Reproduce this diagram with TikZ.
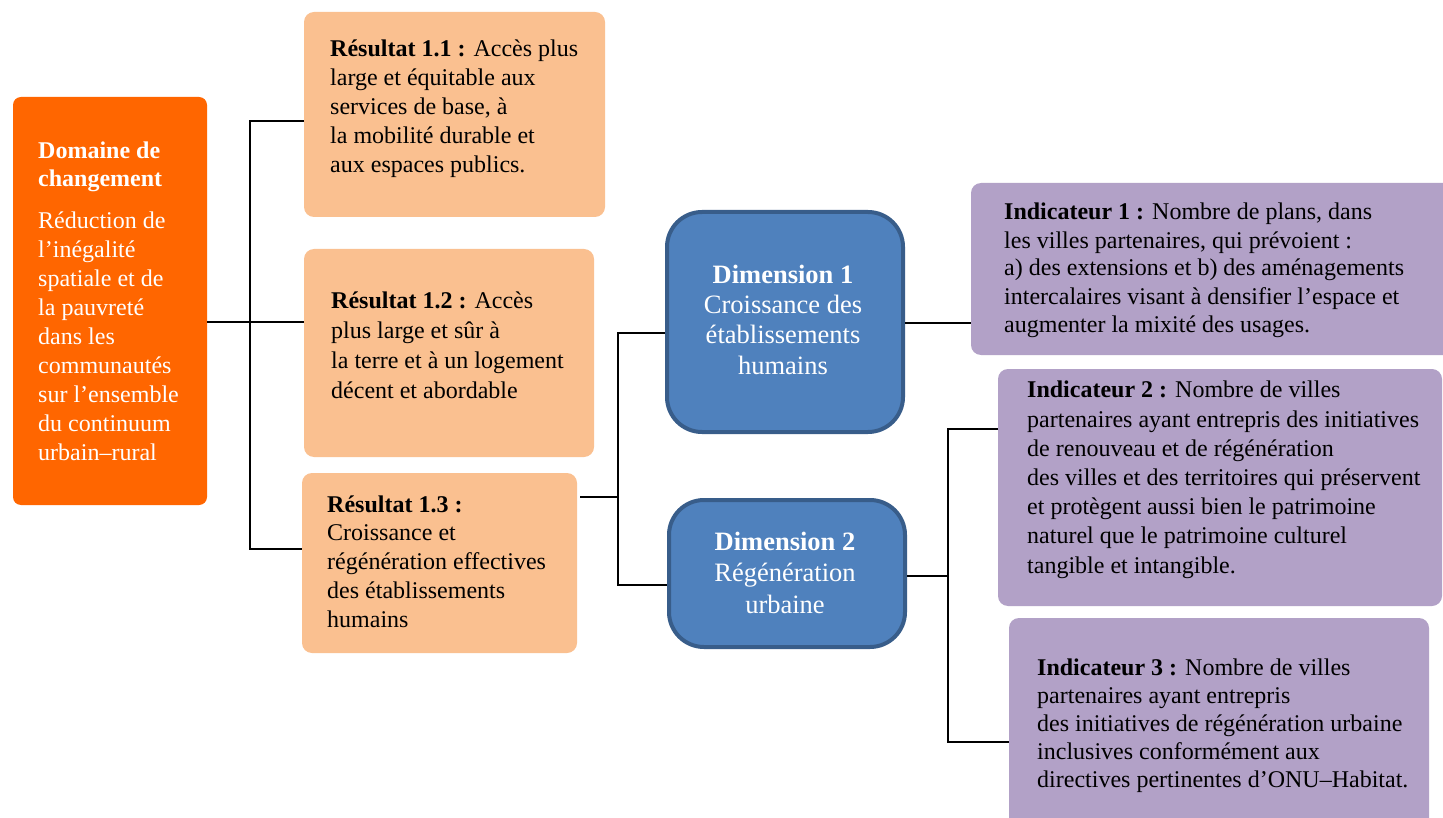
\documentclass[tikz,border=0pt]{standalone}
\usepackage{fontspec}
\setmainfont{Liberation Serif}
\definecolor{dorange}{HTML}{FF6600}
\definecolor{peach}{HTML}{FAC090}
\definecolor{dblue}{HTML}{4F81BD}
\definecolor{dblueline}{HTML}{385D8A}
\definecolor{lav}{HTML}{B2A1C7}
\begin{document}
\begin{tikzpicture}[x=1pt,y=-1pt,
  boxbase/.style={anchor=north west, inner sep=0pt, outer sep=0pt},
  domainbox/.style={boxbase, fill=dorange, rounded corners=8pt},
  resbox/.style={boxbase, fill=peach, rounded corners=10pt},
  dimbox/.style={boxbase, fill=dblue, draw=dblueline, line width=4pt, rounded corners=35pt, outer sep=2pt},
  indbox/.style={boxbase, fill=lav, rounded corners=10pt},
  txt/.style={anchor=base west, inner sep=0pt, align=left, font=\fontsize{24}{#1}\selectfont},
  txt/.default=29,
  dimtxt/.style={anchor=base, inner sep=0pt, align=center, text=white, font=\fontsize{26.5}{#1}\selectfont},
  dimtxt/.default=30.3,
  conn/.style={draw=black, line width=2pt}
]
\useasboundingbox (0,0) rectangle (1443,818);
\fill[white] (0,0) rectangle (1443,818);

% boxes
\node[domainbox, minimum width=194pt, minimum height=408pt] (domain) at (13,97) {};
\node[resbox, minimum width=301pt, minimum height=205pt] (r1) at (304,12) {};
\node[resbox, minimum width=290pt, minimum height=208pt] (r2) at (304,249) {};
\node[resbox, minimum width=275pt, minimum height=180pt] (r3) at (302,473) {};
\node[dimbox, minimum width=236pt, minimum height=220pt] (d1) at (665,210) {};
\node[dimbox, minimum width=236pt, minimum height=147pt] (d2) at (667,498) {};
\node[indbox, minimum width=490pt, minimum height=172pt] (i1) at (971,183) {};
\node[indbox, minimum width=444pt, minimum height=237pt] (i2) at (998,369) {};
\node[indbox, minimum width=420pt, minimum height=225pt] (i3) at (1009,618) {};

% texts (anchored at the baseline of their last line)
\node[txt=28.9, text=white] (domaint) at (38,460) {\textbf{Domaine de}\\\textbf{changement}\\[13pt]Réduction de\\l’inégalité\\spatiale et de\\la pauvreté\\dans les\\communautés\\sur l’ensemble\\du continuum\\urbain–rural};
\node[txt] (r1t) at (330,173) {\textbf{Résultat 1.1 :} Accès plus\\large et équitable aux\\services de base, à\\la mobilité durable et\\aux espaces publics.};
\node[txt=30] (r2t) at (331,398) {\textbf{Résultat 1.2 :} Accès\\plus large et sûr à\\la terre et à un logement\\décent et abordable};
\node[txt=28.75] (r3t) at (327,627) {\textbf{Résultat 1.3 :}\\Croissance et\\régénération effectives\\des établissements\\humains};
\node[dimtxt] (d1t) at (783,374) {\textbf{Dimension 1}\\Croissance des\\établissements\\humains};
\node[dimtxt=31.5] (d2t) at (785,613) {\textbf{Dimension 2}\\Régénération\\urbaine};
\node[txt=28] (i1t) at (1004,332) {\textbf{Indicateur 1 :} Nombre de plans, dans\\les villes partenaires, qui prévoient :\\a) des extensions et b) des aménagements\\intercalaires visant à densifier l’espace et\\augmenter la mixité des usages.};
\node[txt=29.17] (i2t) at (1027,573) {\textbf{Indicateur 2 :} Nombre de villes\\partenaires ayant entrepris des initiatives\\de renouveau et de régénération\\des villes et des territoires qui préservent\\et protègent aussi bien le patrimoine\\naturel que le patrimoine culturel\\tangible et intangible.};
\node[txt=28] (i3t) at (1037,787) {\textbf{Indicateur 3 :} Nombre de villes\\partenaires ayant entrepris\\des initiatives de régénération urbaine\\inclusives conformément aux\\directives pertinentes d’ONU–Habitat.};

% connectors
\coordinate (b1t) at (250,121);
\coordinate (b1m) at (250,322);
\coordinate (b1b) at (250,549);
\draw[conn] (r1.west |- b1t) -- (b1t) -- (b1b) -- (r3.west |- b1b);
\draw[conn] (domain.east |- b1m) -- (r2.west |- b1m);

\coordinate (b2t) at (618,333);
\coordinate (b2m) at (618,497);
\coordinate (b2b) at (618,585);
\draw[conn] ([xshift=3pt]r3.east |- b2m) -- (b2m);
\draw[conn] (d1.west |- b2t) -- (b2t) -- (b2b) -- (d2.west |- b2b);

\coordinate (c1) at (935,323);
\draw[conn] (d1.east |- c1) -- (i1.west |- c1);

\coordinate (b3t) at (948,429);
\coordinate (b3m) at (948,576);
\coordinate (b3b) at (948,742);
\draw[conn] (d2.east |- b3m) -- (b3m);
\draw[conn] (i2.west |- b3t) -- (b3t) -- (b3b) -- (i3.west |- b3b);
\end{tikzpicture}
\end{document}
